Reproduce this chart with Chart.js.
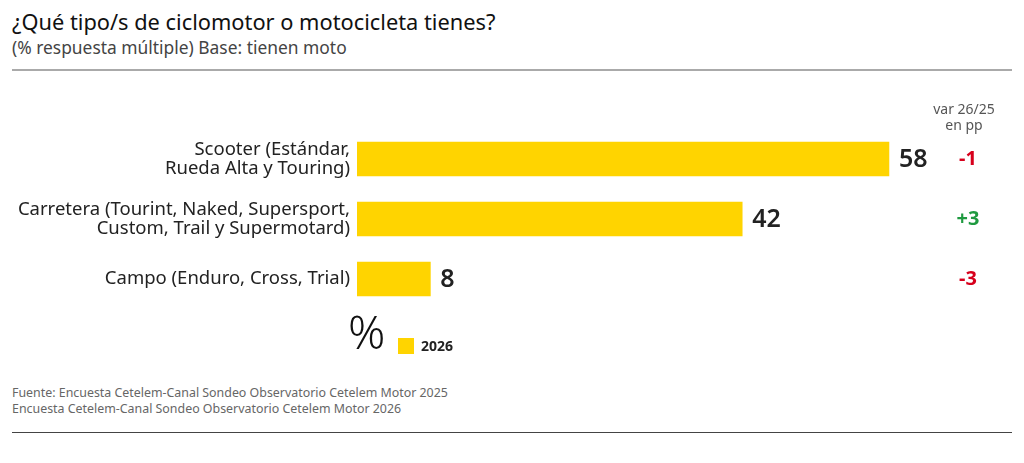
<!DOCTYPE html>
<html>
<head>
<meta charset="utf-8">
<script src="https://cdn.jsdelivr.net/npm/chart.js@4"></script>
<style>
  body { margin: 0; background: #fff; font-family: "Noto Sans", sans-serif; }
  #page { position: relative; width: 1024px; height: 463px; overflow: hidden; }
  .title { position: absolute; left: 12px; top: 7px; font-size: 21.8px; color: #111; }
  .subtitle { position: absolute; left: 12px; top: 35px; font-size: 17.4px; color: #444; }
  .rule { position: absolute; left: 12px; width: 1000px; height: 0; }
  .source { position: absolute; left: 12px; top: 385px; font-size: 12.4px; line-height: 16px; color: #666; }
  #chartBox { position: absolute; left: 0; top: 95px; width: 1024px; height: 270px; }
</style>
</head>
<body>
<div id="page">
  <div class="title">¿Qué tipo/s de ciclomotor o motocicleta tienes?</div>
  <div class="subtitle">(% respuesta múltiple) Base: tienen moto</div>
  <div class="rule" style="top:69px;border-top:2px solid #aaa;"></div>
  <div id="chartBox"><canvas id="chart"></canvas></div>
  <div class="source">Fuente: Encuesta Cetelem-Canal Sondeo Observatorio Cetelem Motor 2025<br>Encuesta Cetelem-Canal Sondeo Observatorio Cetelem Motor 2026</div>
  <div class="rule" style="top:432px;border-top:1px solid #444;"></div>
</div>
<script>
// data
var categories = [
    ['Scooter (Estándar,', 'Rueda Alta y Touring)'],
    ['Carretera (Tourint, Naked, Supersport,', 'Custom, Trail y Supermotard)'],
    ['Campo (Enduro, Cross, Trial)']
];
var values2026 = [58, 42, 8];
var variation = ['-1', '+3', '-3'];
var seriesName = '2026';

var yellow = '#ffd400';

// draws category labels, value labels, the variation column and the legend
var labelPlugin = {
    id: 'labels',
    afterDatasetsDraw: function(chart) {
        var ctx = chart.ctx;
        var x = chart.scales.x;
        var y = chart.scales.y;
        ctx.save();
        ctx.textBaseline = 'middle';

        // category labels
        ctx.font = '18.5px "Noto Sans"';
        ctx.fillStyle = '#222';
        ctx.textAlign = 'right';
        categories.forEach(function(lines, i) {
            var cy = y.getPixelForValue(i);
            var start = cy - (lines.length - 1) * 19 / 2;
            lines.forEach(function(line, j) {
                ctx.fillText(line, x.left - 7, start + j * 19);
            });
        });

        // values at bar ends
        ctx.font = '600 25px "Noto Sans"';
        ctx.fillStyle = '#222';
        ctx.textAlign = 'left';
        values2026.forEach(function(v, i) {
            ctx.fillText(v, x.getPixelForValue(v) + 10, y.getPixelForValue(i) + 1);
        });

        // variation column
        ctx.textAlign = 'center';
        ctx.font = '14px "Noto Sans"';
        ctx.fillStyle = '#555';
        ctx.fillText('var 26/25', 964, y.getPixelForValue(0) - 49);
        ctx.fillText('en pp', 964, y.getPixelForValue(0) - 33);
        ctx.font = 'bold 20px "Noto Sans"';
        variation.forEach(function(v, i) {
            ctx.fillStyle = v.charAt(0) === '+' ? '#1f9a40' : '#d7001c';
            ctx.fillText(v, 968, y.getPixelForValue(i));
        });

        // legend
        var ly = y.getPixelForValue(2) + 67;
        ctx.textAlign = 'left';
        ctx.fillStyle = '#111';
        ctx.font = '300 46px "Noto Sans"';
        ctx.fillText('%', 348, ly - 10);
        ctx.fillStyle = yellow;
        ctx.fillRect(398, ly - 8, 16, 16);
        ctx.fillStyle = '#222';
        ctx.font = 'bold 14px "Noto Sans"';
        ctx.fillText(seriesName, 421, ly + 1);
        ctx.restore();
    }
};

new Chart(document.getElementById('chart'), {
    type: 'bar',
    data: {
        labels: categories,
        datasets: [{
            label: seriesName,
            data: values2026,
            backgroundColor: yellow,
            barThickness: 34
        }]
    },
    options: {
        indexAxis: 'y',
        responsive: true,
        maintainAspectRatio: false,
        animation: false,
        layout: { padding: { left: 357, right: 25, top: 34, bottom: 56 } },
        scales: {
            x: { display: false, min: 0, max: 70 },
            y: { display: false }
        },
        plugins: {
            legend: { display: false },
            tooltip: { enabled: false }
        }
    },
    plugins: [labelPlugin]
});
</script>
</body>
</html>
